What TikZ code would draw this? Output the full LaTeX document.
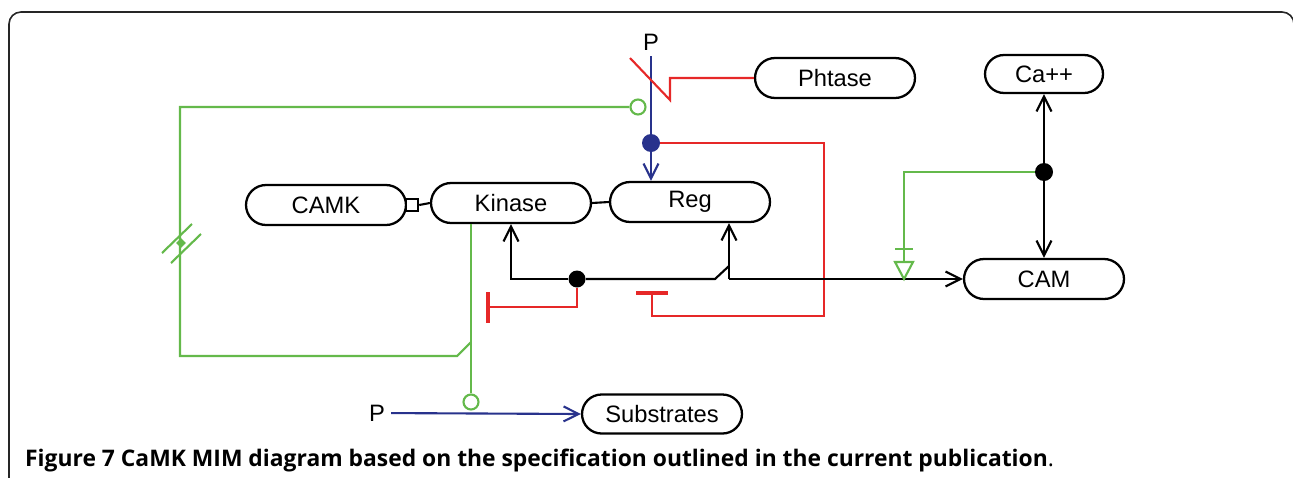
\documentclass[tikz,border=0pt]{standalone}
\usepackage{fontspec}
\setmainfont{Liberation Sans}
\newfontfamily\capfont{Open Sans}
\usetikzlibrary{arrows.meta,shapes.misc,shapes.geometric}
\definecolor{mimblue}{RGB}{40,50,140}
\definecolor{mimred}{RGB}{230,40,40}
\definecolor{mimgreen}{RGB}{100,185,75}
\begin{document}
\begin{tikzpicture}
[x=0.02cm, y=-0.02cm, font=\fontsize{13.5}{16}\selectfont,
 species/.style={rounded rectangle, draw, line width=1.3pt, fill=white,
   minimum width=3.2cm, minimum height=0.8cm, inner sep=0pt},
 dot/.style={circle, inner sep=0pt, minimum size=0.36cm},
 ring/.style={circle, draw=mimgreen, line width=1.2pt, inner sep=0pt, minimum size=0.3cm},
 >={Straight Barb[length=3mm,width=3mm]},
 link/.style={line width=1.2pt}, blueline/.style={link, mimblue},
 redline/.style={link, mimred}, greenline/.style={link, mimgreen},
 tbar/.style={-{Bar[width=0.62cm, line width=2pt]}}]
\useasboundingbox (0,0) rectangle (1293,477);
\draw[line width=0.9pt, black!85, rounded corners=0.24cm] (9,490) -- (9,12) -- (1294,12) -- (1294,490);

\node[species] (Phtase) at (835,78) {Phtase};
\node[species, minimum width=2.36cm, minimum height=0.76cm] (Ca) at (1044,74) {Ca++};
\node[species] (CAMK) at (326,205) {CAMK};
\node[species] (Kinase) at (511,203) {Kinase};
\node[species] (Reg) at (690,202) {Reg};
\node[species] (CAM) at (1044,279) {CAM};
\node[species, minimum height=0.78cm] (Substrates) at (662,414) {Substrates};
\node (Ptop) at (651,42) {P};
\node (Pbot) at (377,413) {P};

\node[dot, fill=mimblue] (pdot) at (651,143) {};
\node[dot, fill=black, minimum size=0.34cm] (bdot) at (577,279) {};
\node[dot, fill=black] (cadot) at (1044,172) {};
\node[ring] (gtop) at (638,107) {};
\node[ring] (gbot) at (471,402) {};
\node[draw, line width=1.1pt, minimum size=0.25cm, inner sep=0pt, fill=white] (box) at (412,205) {};
\coordinate (jn) at (729,279);
\coordinate (gmark) at (181,243);

\draw[blueline, ->] (Ptop.south) -- (Ptop.south |- Reg.north);
\draw[blueline, ->] (Pbot) -- (Substrates.west);
\draw[redline] (Phtase.west) -- (670,78) -- (670,100) -- (630,58);
\draw[redline] (pdot) -- (824,143) -- (824,316) -- (652,316) -- (652,293);
\draw[redline, line width=2pt] (636,293) -- (668,293);
\draw[redline, tbar] (bdot) |- (486,307);

\draw[link] (CAMK.east) -- (box.west);
\draw[link] (box.east) -- (Kinase.west);
\draw[link] (Kinase.east) -- (Reg.west);
\draw[link, ->] (bdot) -| (Kinase.south);
\draw[link] (bdot) -- (715,279) -- (729,266);
\draw[link, ->] (jn) -- (Reg.south -| jn);
\draw[link, ->] (jn) -- (CAM.west);
\draw[link, ->] (cadot) -- (Ca.south);
\draw[link, ->] (cadot) -- (CAM.north);

\draw[greenline] (gtop.west) -- (180,107) -- (180,356) -- (457,356) -- (471,342);
\draw[greenline] (Kinase.south -| gbot) -- (gbot.north);
\draw[greenline] ([shift={(-4,-5)}]gmark) ++(-15,15) -- ++(30,-29);
\draw[greenline] ([shift={(5,5)}]gmark) ++(-15,15) -- ++(30,-29);
\node[diamond, fill=mimgreen, inner sep=0pt, minimum size=0.2cm] (gdia) at (gmark) {};
\draw[greenline] (cadot) -| (904,262);
\draw[greenline] (895,249) -- (913,249);
\draw[greenline] (895,262) -- (913,262) -- (904,279) -- cycle;

\node[anchor=base west, font=\capfont\fontsize{13}{15}\selectfont] (caption) at (19,466)
  {\textbf{Figure 7 CaMK MIM diagram based on the specification outlined in the current publication}.};
\end{tikzpicture}
\end{document}
